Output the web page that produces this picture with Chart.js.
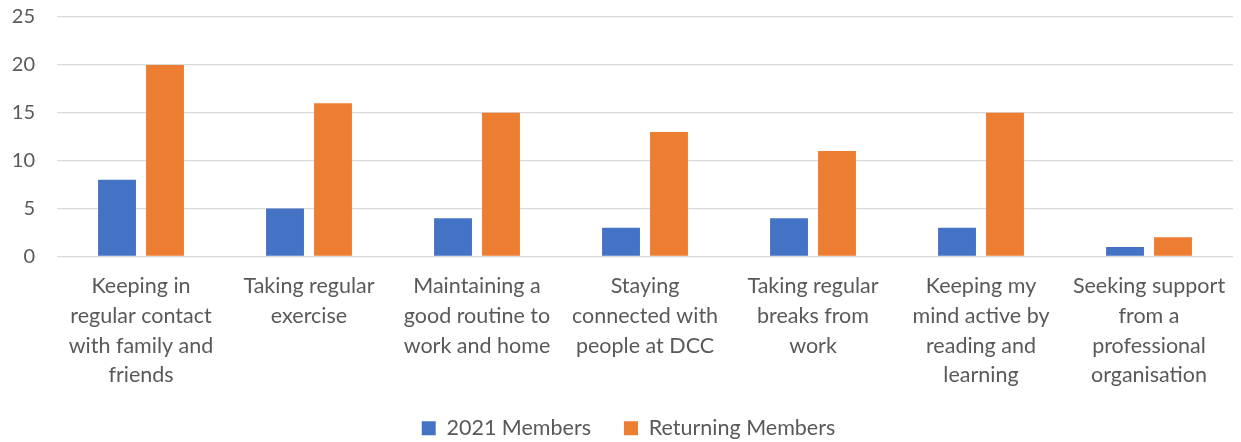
<!DOCTYPE html>
<html>
<head>
<meta charset="utf-8">
<script src="https://cdn.jsdelivr.net/npm/chart.js@4"></script>
<style>
  html, body { margin: 0; padding: 0; background: #ffffff; }
  #wrap { width: 1241px; height: 442px; }
</style>
</head>
<body>
<div id="wrap"><canvas id="chart"></canvas></div>
<script>
  /* ── Data ── */
  const categories = [
    ['Keeping in', 'regular contact', 'with family and', 'friends'],
    ['Taking regular', 'exercise'],
    ['Maintaining a', 'good routine to', 'work and home'],
    ['Staying', 'connected with', 'people at DCC'],
    ['Taking regular', 'breaks from', 'work'],
    ['Keeping my', 'mind active by', 'reading and', 'learning'],
    ['Seeking support', 'from a', 'professional', 'organisation']
  ];
  const members2021 = [8, 5, 4, 3, 4, 3, 1];
  const returningMembers = [20, 16, 15, 13, 11, 15, 2];
  const yTicks = [0, 5, 10, 15, 20, 25];

  const FONT = 'Lato, "Open Sans", sans-serif';
  const TEXT = '#595959';

  /* nudge the legend up and right, the wide item padding pushes it off */
  const legendShift = {
    id: 'legendShift',
    afterLayout: chart => {
      const lg = chart.legend;
      lg.top -= 9;
      lg.bottom -= 9;
      lg.left += 12;
      lg.right += 12;
    }
  };

  /* ── Grouped Bar Chart ── */
  const ctx = document.getElementById('chart').getContext('2d');
  new Chart(ctx, {
    type: 'bar',
    data: {
      labels: categories,
      datasets: [
        {
          label: '2021 Members',
          data: members2021,
          backgroundColor: '#4472C4',
          barPercentage: 0.79,
          categoryPercentage: 0.571
        },
        {
          label: 'Returning Members',
          data: returningMembers,
          backgroundColor: '#ED7D31',
          barPercentage: 0.79,
          categoryPercentage: 0.571
        }
      ]
    },
    options: {
      responsive: true,
      maintainAspectRatio: false,
      animation: false,
      layout: { padding: { top: 17, right: 8, left: 0, bottom: -16 } },
      plugins: {
        legend: {
          position: 'bottom',
          labels: {
            font: { size: 21.5, family: FONT },
            color: TEXT,
            boxWidth: 14,
            boxHeight: 14,
            padding: 33
          }
        },
        tooltip: { enabled: false }
      },
      scales: {
        y: {
          min: 0,
          max: 25,
          afterBuildTicks: s => { s.ticks = yTicks.map(v => ({ value: v })); },
          afterFit: s => { s.width = 57; s.paddingTop = 0; s.paddingBottom = 0; },
          ticks: {
            color: TEXT,
            font: { size: 20, family: FONT },
            padding: 22
          },
          grid: { color: '#D9D9D9', lineWidth: 1.3, drawTicks: false },
          border: { display: false }
        },
        x: {
          afterFit: s => { s.height = 137; },
          ticks: {
            color: TEXT,
            font: { size: 21.5, family: FONT, lineHeight: 1.38 },
            padding: 15,
            maxRotation: 0,
            autoSkip: false
          },
          grid: { display: false, drawTicks: false },
          border: { display: false }
        }
      }
    },
    plugins: [legendShift]
  });
</script>
</body>
</html>
